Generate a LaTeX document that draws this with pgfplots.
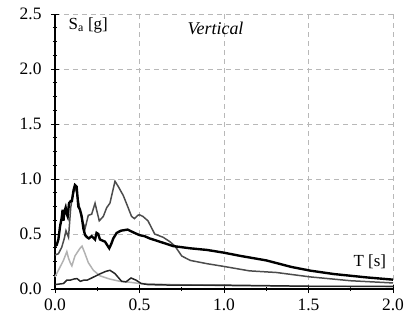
\documentclass[border=0pt]{standalone}
\usepackage{pgfplots}
\pgfplotsset{compat=1.18}
\usepackage{fontspec}
\setmainfont{Liberation Serif}
\begin{document}
\begin{tikzpicture}
\begin{axis}[
  name=ax, at={(0,0)}, anchor=south west,
  scale only axis, width=338bp, height=275bp,
  xmin=0, xmax=2, ymin=0, ymax=2.5,
  axis x line=bottom, axis y line=left,
  axis line style={-, black, line width=1.1pt},
  xtick={0,0.5,1,1.5,2}, ytick={0,0.5,1,1.5,2,2.5},
  xticklabels={0.0,0.5,1.0,1.5,2.0},
  yticklabels={0.0,0.5,1.0,1.5,2.0,2.5},
  minor x tick num=1, minor y tick num=3,
  tick align=center, major tick length=8bp, minor tick length=4bp,
  tick style={black, line width=0.9pt},
  grid=major, major grid style={black!28, line width=0.9pt, dash pattern=on 5bp off 4bp},
  tick label style={font=\rmfamily\fontsize{17.5}{19}\selectfont},
  xticklabel style={yshift=-2bp},
  yticklabel style={xshift=-6bp},
  clip=false,
]
\addplot[color=black!30, line width=1.5pt] coordinates {
(0,0.11) (0.02,0.17) (0.05,0.26) (0.07,0.34) (0.08,0.28) (0.09,0.24) (0.10,0.21)
(0.118,0.30) (0.135,0.34) (0.148,0.37) (0.16,0.39) (0.178,0.32) (0.197,0.24)
(0.227,0.17) (0.266,0.12) (0.325,0.09) (0.384,0.07) (0.45,0.06) (0.5,0.05)
(0.7,0.04) (1.0,0.03) (1.5,0.025) (2.0,0.02)};
\addplot[color=black!85, line width=1.5pt] coordinates {
(0,0.04) (0.05,0.05) (0.07,0.08) (0.09,0.08) (0.11,0.09) (0.13,0.095) (0.15,0.07)
(0.17,0.08) (0.19,0.08) (0.23,0.11) (0.27,0.14) (0.30,0.16) (0.325,0.17)
(0.355,0.14) (0.394,0.07) (0.42,0.065) (0.45,0.10) (0.48,0.08) (0.51,0.05)
(0.55,0.04) (0.7,0.035) (1.0,0.035) (1.5,0.025) (2.0,0.025)};
\addplot[color=black!70, line width=1.5pt] coordinates {
(0,0.31) (0.02,0.32) (0.04,0.38) (0.055,0.46) (0.065,0.53) (0.08,0.47) (0.093,0.74)
(0.105,0.85) (0.118,0.92) (0.128,0.88) (0.138,0.80) (0.158,0.64) (0.178,0.55)
(0.197,0.67) (0.217,0.68) (0.237,0.78) (0.246,0.72) (0.262,0.62) (0.286,0.66)
(0.306,0.74) (0.325,0.78) (0.34,0.88) (0.355,0.98) (0.375,0.93) (0.404,0.85)
(0.43,0.75) (0.453,0.66) (0.47,0.64) (0.49,0.67) (0.50,0.675) (0.52,0.66)
(0.55,0.62) (0.59,0.50) (0.64,0.47) (0.68,0.43) (0.71,0.39) (0.75,0.30)
(0.8,0.26) (0.9,0.23) (1.0,0.205) (1.15,0.165) (1.31,0.15) (1.51,0.11)
(1.75,0.075) (2.0,0.055)};
\addplot[color=black, line width=2.4pt] coordinates {
(0,0.39) (0.01,0.40) (0.02,0.45) (0.03,0.57) (0.04,0.65) (0.045,0.72) (0.05,0.62)
(0.055,0.70) (0.063,0.74) (0.07,0.68) (0.075,0.66) (0.083,0.78) (0.093,0.80)
(0.10,0.80) (0.11,0.90) (0.118,0.945) (0.128,0.93) (0.138,0.75) (0.148,0.72)
(0.158,0.66) (0.168,0.55) (0.178,0.49) (0.19,0.47) (0.20,0.46) (0.217,0.48)
(0.237,0.45) (0.246,0.51) (0.256,0.50) (0.266,0.45) (0.296,0.43) (0.321,0.37)
(0.333,0.41) (0.345,0.46) (0.365,0.51) (0.39,0.53) (0.43,0.54) (0.47,0.51)
(0.50,0.49) (0.53,0.48) (0.56,0.46) (0.62,0.43) (0.70,0.39) (0.80,0.37)
(0.90,0.355) (1.0,0.33) (1.1,0.30) (1.25,0.26) (1.4,0.20) (1.51,0.167)
(1.65,0.136) (1.84,0.106) (2.0,0.085)};
\node[font=\itshape\fontsize{18}{20}\selectfont] at (axis cs:0.95,2.37) {Vertical};
\node[anchor=west, font=\fontsize{17}{19}\selectfont] at (axis cs:0.06,2.4) {S\textsubscript{a} [g]};
\node[anchor=east, font=\fontsize{17}{19}\selectfont] at (axis cs:1.98,0.245) {T [s]};
\end{axis}
\path (-55bp,-33bp) rectangle ++(415bp,322bp);
\end{tikzpicture}
\end{document}
